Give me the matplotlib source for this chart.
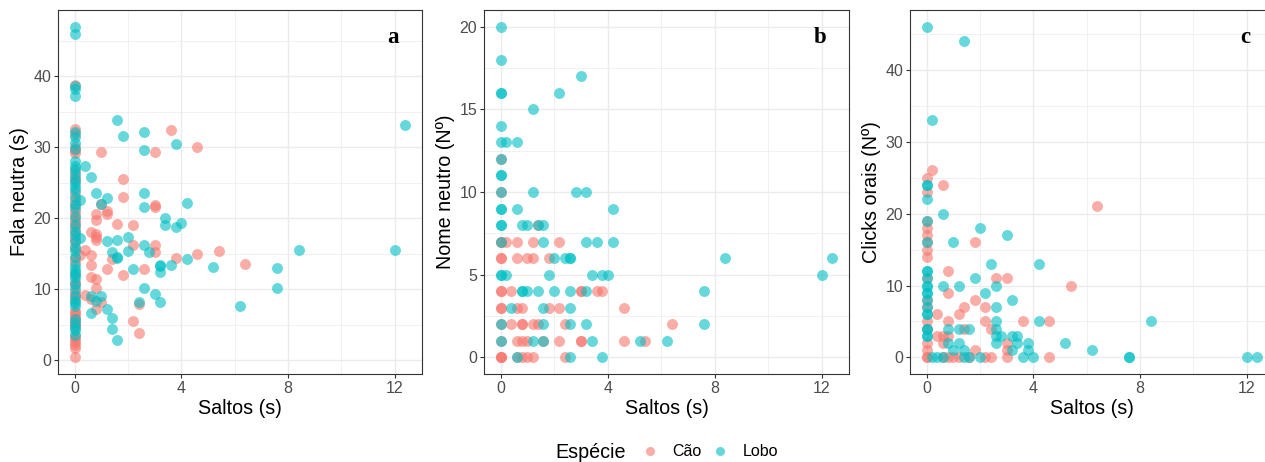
import matplotlib
matplotlib.use("Agg")
import matplotlib.pyplot as plt
from matplotlib.lines import Line2D
from matplotlib.ticker import MultipleLocator

plt.rcParams['font.family'] = ['Liberation Sans', 'DejaVu Sans']

COL_CAO = '#F8766D'
COL_LOBO = '#00BFC4'

# --- Panel a: Fala neutra (s) vs Saltos (s) ---
a_cao_zero = [38.8, 32.6, 31.8, 30.0, 29.6, 29.2, 26.6, 25.8, 25.2, 23.6, 22.6, 21.8,
              21.0, 20.4, 19.8, 19.4, 18.8, 18.0, 17.2, 16.6, 15.8, 14.4, 13.8, 12.2,
              11.0, 10.6, 9.6, 9.2, 8.6, 7.0, 6.6, 6.2, 5.8, 5.4, 5.0, 4.8, 3.4, 3.0,
              2.6, 2.2, 1.8, 0.4]
a_cao = [(3.6, 32.4), (4.6, 30.0), (1.0, 29.4), (3.0, 29.4), (1.8, 25.6), (1.8, 23.0),
         (3.0, 21.8), (3.0, 21.6), (1.0, 22.0), (0.8, 20.6), (0.8, 19.8), (1.2, 21.0),
         (1.2, 20.6), (1.6, 19.2), (2.2, 19.0), (0.6, 18.0), (0.8, 17.8), (0.8, 17.4),
         (0.8, 17.0), (2.2, 16.2), (3.0, 16.2), (3.0, 15.2), (0.4, 15.6), (0.2, 14.8),
         (0.6, 14.8), (1.4, 14.2), (3.8, 14.4), (4.6, 15.0), (5.4, 15.4), (6.4, 13.6),
         (0.6, 13.4), (1.2, 12.8), (2.6, 12.8), (0.6, 11.8), (0.8, 11.4), (1.8, 12.0),
         (0.8, 10.2), (0.4, 9.2), (0.6, 8.6), (1.0, 8.2), (0.8, 7.2), (2.4, 7.9),
         (2.2, 5.6), (2.4, 3.8)]
a_lobo_zero = [47.0, 46.0, 38.6, 38.2, 37.2, 32.2, 31.4, 30.6, 29.8, 28.0, 27.4, 27.0,
               26.2, 25.6, 25.0, 24.4, 24.0, 23.0, 22.0, 21.4, 20.2, 19.0, 18.2, 17.6,
               16.8, 16.0, 15.4, 14.6, 13.4, 12.8, 12.4, 12.0, 11.6, 10.8, 10.0, 9.0,
               8.4, 8.0, 7.6, 5.8, 5.2, 4.6, 4.2, 3.6]
a_lobo = [(12.4, 33.2), (1.6, 33.8), (1.8, 31.6), (2.6, 32.2), (2.6, 29.6), (3.8, 30.4),
          (0.4, 27.4), (0.6, 25.8), (0.2, 22.6), (0.8, 23.6), (1.2, 22.8), (2.6, 23.6),
          (2.6, 21.6), (4.2, 22.2), (1.0, 22.0), (3.4, 20.0), (3.4, 19.0), (4.0, 19.4),
          (3.8, 18.8), (0.2, 17.2), (1.2, 16.8), (1.6, 17.0), (2.0, 17.4), (2.0, 15.4),
          (2.6, 16.2), (2.8, 15.2), (1.4, 15.2), (1.6, 14.6), (1.6, 14.4), (3.2, 13.4),
          (3.2, 13.3), (3.6, 13.4), (3.2, 12.4), (4.2, 14.2), (5.2, 13.2), (2.2, 12.8),
          (8.4, 15.6), (12.0, 15.6), (7.6, 13.0), (7.6, 10.2), (2.6, 10.2), (3.0, 9.4),
          (3.2, 8.2), (2.4, 8.2), (6.2, 7.6), (0.6, 9.0), (1.0, 9.0), (0.8, 8.4),
          (0.6, 6.6), (1.2, 7.2), (1.4, 6.0), (1.4, 4.4), (1.6, 2.8)]

# --- Panel b: Nome neutro (Nº) vs Saltos (s) ---
b_cao = [(0, 12), (0, 10), (1.4, 8), (0, 7), (0, 7), (0.2, 7), (0.6, 7), (1.2, 7), (2.2, 7),
         (0, 6), (0, 6), (0.6, 6), (1.0, 6), (1.2, 6), (1.8, 6), (0, 4), (0, 4), (0.4, 4),
         (3.0, 4), (3.0, 4), (3.6, 4), (3.8, 4), (0, 3), (0, 3), (0.6, 3), (0.8, 3),
         (1.8, 3), (2.2, 3), (4.6, 3), (0, 2), (0.4, 2), (0.8, 2), (0.8, 2), (1.2, 2),
         (1.4, 2), (2.4, 2), (6.4, 2), (0, 1), (0.6, 1), (0.8, 1), (1.0, 1), (1.6, 1),
         (2.2, 1), (3.0, 1), (3.0, 1), (4.6, 1), (5.4, 1), (0, 0), (0, 0), (0, 0),
         (0.6, 0), (0.8, 0), (1.0, 0), (1.2, 0), (2.4, 0)]
b_lobo = [(0, 20), (0, 18), (0, 16), (0, 16), (1.2, 15), (2.2, 16), (3.0, 17), (0, 14),
          (0, 13), (0.2, 13), (0.6, 13), (0, 12), (0, 11), (0, 11), (1.2, 10), (2.8, 10),
          (3.2, 10), (0, 10), (0, 9), (0, 9), (0.6, 9), (4.2, 9), (0, 8), (0, 8), (0.8, 8),
          (1.0, 8), (1.4, 8), (1.6, 8), (0, 7), (1.6, 7), (3.2, 7), (3.6, 7), (4.2, 7),
          (2.0, 6), (2.4, 6), (2.6, 6), (2.6, 6), (8.4, 6), (12.4, 6), (0, 5), (0, 5),
          (0.2, 5), (1.8, 5), (3.4, 5), (3.8, 5), (4.0, 5), (12.0, 5), (0.8, 4), (0.8, 4),
          (1.0, 4), (1.4, 4), (2.0, 4), (2.6, 4), (3.2, 4), (7.6, 4), (0.4, 3), (1.6, 3),
          (2.6, 3), (0, 2), (1.6, 2), (2.6, 2), (3.2, 2), (7.6, 2), (0, 1), (1.2, 1),
          (1.6, 1), (3.4, 1), (5.2, 1), (6.2, 1), (0.6, 0), (2.6, 0), (3.8, 0)]

# --- Panel c: Clicks orais (Nº) vs Saltos (s) ---
c_cao = [(0, 25), (0.2, 26), (0, 23), (0.6, 24), (0, 19), (0, 18), (0, 17), (0, 16),
         (0, 15), (0, 14), (6.4, 21), (1.8, 16), (0.8, 12), (0, 11), (2.6, 11), (3.0, 11),
         (0.8, 9), (5.4, 10), (0, 8), (1.8, 8), (0, 7), (1.4, 7), (2.2, 7), (0.4, 6),
         (1.2, 6), (0, 5), (0.8, 5), (2.2, 5), (3.6, 5), (4.6, 5), (0, 4), (1.4, 4),
         (2.4, 4), (0, 2), (0.4, 3), (0.6, 3), (0.8, 3), (0.6, 2), (3.0, 2), (0, 1),
         (1.8, 1), (3.0, 1), (0, 0), (0, 0), (0.6, 0), (0.8, 0), (1.0, 0), (1.2, 0),
         (1.6, 0), (2.2, 0), (2.4, 0), (3.0, 0), (4.6, 0)]
c_lobo = [(0, 46), (1.4, 44), (0.2, 33), (0, 24), (0, 24), (0, 22), (0.6, 20), (0, 19),
          (2.0, 18), (3.0, 17), (1.0, 16), (0, 16), (2.4, 13), (4.2, 13), (0, 12), (0, 12),
          (0, 11), (1.8, 11), (0, 10), (0, 10), (0.6, 10), (1.2, 10), (2.6, 10), (0, 9),
          (0, 9), (2.2, 9), (0, 8), (3.2, 8), (0, 7), (2.6, 7), (0, 6), (0, 6), (2.6, 5),
          (4.2, 5), (8.4, 5), (0, 4), (0, 4), (0.8, 4), (1.2, 4), (1.6, 4), (2.6, 4),
          (0, 3), (0, 3), (2.6, 3), (2.8, 3), (3.2, 3), (3.4, 3), (0.8, 2), (1.2, 2),
          (2.6, 2), (3.4, 2), (3.8, 2), (5.2, 2), (1.0, 1), (1.4, 1), (3.2, 1), (3.8, 1),
          (6.2, 1), (0.2, 0), (0.4, 0), (0.6, 0), (1.4, 0), (1.6, 0), (2.0, 0), (3.6, 0),
          (4.0, 0), (7.6, 0), (7.6, 0), (12.0, 0), (12.4, 0)]

x_ticks = [0, 4, 8, 12]
a_ylim, b_ylim, c_ylim = (-1.93, 49.33), (-1.0, 21.0), (-2.3, 48.3)


def style(ax, ylim, ystep, ylabel, letter):
    ax.set_xlim(-0.62, 13.02)
    ax.set_ylim(*ylim)
    ax.set_xticks(x_ticks)
    ax.xaxis.set_minor_locator(MultipleLocator(2))
    ax.yaxis.set_major_locator(MultipleLocator(ystep))
    ax.yaxis.set_minor_locator(MultipleLocator(ystep / 2))
    ax.grid(which='major', color='#EBEBEB', linewidth=1.0)
    ax.grid(which='minor', color='#EBEBEB', linewidth=0.5)
    ax.set_axisbelow(True)
    for sp in ax.spines.values():
        sp.set_color('#333333')
        sp.set_linewidth(0.8)
    ax.tick_params(which='major', length=3, width=0.8, color='#333333',
                   labelsize=11.5, labelcolor='#4D4D4D', pad=2)
    ax.tick_params(which='minor', length=0)
    ax.set_xlabel('Saltos (s)', fontsize=14.2, labelpad=2)
    ax.set_ylabel(ylabel, fontsize=14.2, labelpad=3)
    ax.text(0.92, 0.925, letter, transform=ax.transAxes, ha='center', va='center',
            fontsize=16.5, fontweight='bold', family='Liberation Serif')


def draw(ax, cao, lobo):
    for pts, col in ((cao, COL_CAO), (lobo, COL_LOBO)):
        xs = [p[0] for p in pts]
        ys = [p[1] for p in pts]
        ax.scatter(xs, ys, s=62, color=col, alpha=0.6, linewidths=0)


fig = plt.figure(figsize=(12.65, 4.62), dpi=100)
W, H = 1265, 462
ax_a = fig.add_axes([58 / W, 88 / H, 364 / W, 364 / H])
ax_b = fig.add_axes([484 / W, 88 / H, 365 / W, 364 / H])
ax_c = fig.add_axes([910 / W, 88 / H, 364 / W, 364 / H])

draw(ax_a, [(0, y) for y in a_cao_zero] + a_cao, [(0, y) for y in a_lobo_zero] + a_lobo)
draw(ax_b, b_cao, b_lobo)
draw(ax_c, c_cao, c_lobo)

style(ax_a, a_ylim, 10, 'Fala neutra (s)', 'a')
style(ax_b, b_ylim, 5, 'Nome neutro (Nº)', 'b')
style(ax_c, c_ylim, 10, 'Clicks orais (Nº)', 'c')

# legend at the bottom
fig.text(591 / W, 1 - 452 / H, 'Espécie', fontsize=14.2, ha='center', va='center')
handles = [Line2D([], [], marker='o', linestyle='', markersize=6.5, color=COL_CAO,
                  alpha=0.6, markeredgewidth=0),
           Line2D([], [], marker='o', linestyle='', markersize=6.5, color=COL_LOBO,
                  alpha=0.6, markeredgewidth=0)]
fig.legend(handles, ['Cão', 'Lobo'], loc='center', bbox_to_anchor=(710 / W, 1 - 452 / H),
           ncol=2, frameon=False, fontsize=11.5, handlelength=1.0, handletextpad=0.9,
           columnspacing=0.7, borderpad=0, borderaxespad=0)

fig.savefig('out.png', dpi=100)
